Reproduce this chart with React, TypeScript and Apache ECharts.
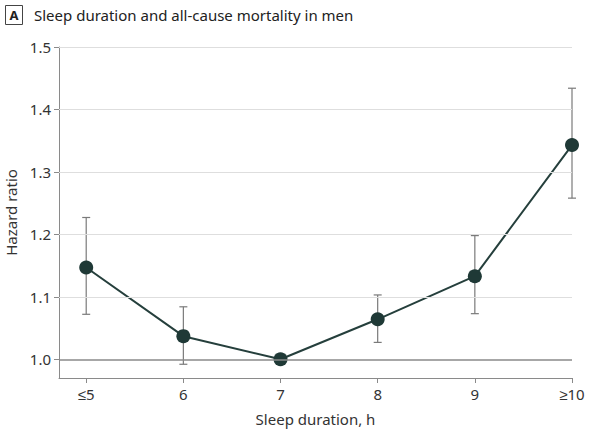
import React, { useEffect, useRef } from "react";
import * as echarts from "echarts";

const categories = ["≤5", "6", "7", "8", "9", "≥10"];
const hazardRatio = [1.147, 1.037, 1.0, 1.064, 1.133, 1.343];
const ciLower = [1.072, 0.992, 1.0, 1.027, 1.073, 1.258];
const ciUpper = [1.227, 1.084, 1.0, 1.103, 1.198, 1.434];
const yTicks = [1.0, 1.1, 1.2, 1.3, 1.4, 1.5];
const xTicks = [0, 1, 2, 3, 4, 5];

const FONT = "'Noto Sans', sans-serif";

export default function App() {
  const ref = useRef<HTMLDivElement>(null);
  useEffect(() => {
    if (!ref.current) return;
    const chart = echarts.init(ref.current, null, { renderer: "svg" });
    const gridLines = yTicks.map((v) => ({
      yAxis: v,
      lineStyle: v === 1.0 ? { color: "#8a8a8a", width: 1.6, type: "solid" } : { color: "#dedede", width: 1, type: "solid" },
    }));
    chart.setOption({
      animation: false,
      backgroundColor: "#ffffff",
      textStyle: { fontFamily: FONT },
      grid: { left: 59, right: 24, top: 47, bottom: 63, outerBoundsMode: "none", containLabel: false },
      graphic: [
        { type: "rect", shape: { x: 5.5, y: 5.5, width: 17, height: 19 }, style: { fill: "#fff", stroke: "#444", lineWidth: 1 } },
        { type: "text", x: 14, y: 15, style: { text: "A", fontFamily: FONT, fontSize: 13, fontWeight: "bold", fill: "#222", align: "center", verticalAlign: "middle" } },
        { type: "text", x: 34, y: 15, style: { text: "Sleep duration and all-cause mortality in men", fontFamily: FONT, fontSize: 15, fill: "#222", verticalAlign: "middle" } },
      ],
      xAxis: {
        type: "value",
        min: -0.28,
        max: 5,
        name: "Sleep duration, h",
        nameLocation: "middle",
        nameGap: 33,
        nameTextStyle: { fontSize: 15, color: "#333", fontFamily: FONT },
        axisLine: { show: true, onZero: false, lineStyle: { color: "#8a8a8a", width: 1 } },
        axisTick: { show: true, length: 5, customValues: xTicks, lineStyle: { color: "#8a8a8a" } },
        axisLabel: {
          customValues: xTicks,
          formatter: (v: number) => categories[Math.round(v)] ?? "",
          fontSize: 15,
          color: "#333",
          margin: 8,
          fontFamily: FONT,
        },
        splitLine: { show: false },
      },
      yAxis: {
        type: "value",
        min: 0.97,
        max: 1.5,
        name: "Hazard ratio",
        nameLocation: "middle",
        nameGap: 41,
        nameRotate: 90,
        nameTextStyle: { fontSize: 15, color: "#333", fontFamily: FONT },
        axisLine: { show: true, onZero: false, lineStyle: { color: "#8a8a8a", width: 1 } },
        axisTick: { show: true, length: 5, customValues: yTicks, lineStyle: { color: "#8a8a8a" } },
        axisLabel: {
          customValues: yTicks,
          formatter: (v: number) => v.toFixed(1),
          fontSize: 15,
          color: "#333",
          margin: 8,
          fontFamily: FONT,
        },
        splitLine: { show: false },
      },
      series: [
        {
          type: "line",
          data: [],
          silent: true,
          markLine: {
            silent: true,
            symbol: "none",
            label: { show: false },
            data: gridLines,
          },
        },
        {
          type: "custom",
          data: categories.map((_, i) => [i, ciLower[i], ciUpper[i]]),
          renderItem: (params: any, api: any) => {
            const x = api.value(0);
            const lo = api.coord([x, api.value(1)]);
            const hi = api.coord([x, api.value(2)]);
            if (Math.abs(hi[1] - lo[1]) < 1) return { type: "group", children: [] };
            const cap = 4;
            const style = { stroke: "#7a7a7a", lineWidth: 1.2 };
            return {
              type: "group",
              children: [
                { type: "line", shape: { x1: lo[0], y1: lo[1], x2: hi[0], y2: hi[1] }, style },
                { type: "line", shape: { x1: lo[0] - cap, y1: lo[1], x2: lo[0] + cap, y2: lo[1] }, style },
                { type: "line", shape: { x1: hi[0] - cap, y1: hi[1], x2: hi[0] + cap, y2: hi[1] }, style },
              ],
            };
          },
          z: 2,
        },
        {
          type: "line",
          data: categories.map((_, i) => [i, hazardRatio[i]]),
          symbol: "circle",
          symbolSize: 14,
          lineStyle: { color: "#253f3c", width: 2 },
          itemStyle: { color: "#1f3936" },
          z: 3,
        },
      ],
    });
    return () => chart.dispose();
  }, []);
  return <div ref={ref} style={{ position: "absolute", left: 0, top: 0, width: 596, height: 441 }} />;
}
